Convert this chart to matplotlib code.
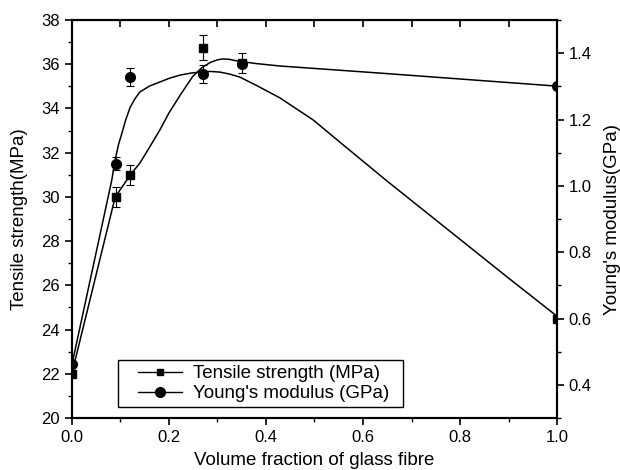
import numpy as np
import matplotlib
matplotlib.use("Agg")
import matplotlib.pyplot as plt
from matplotlib.lines import Line2D
from matplotlib.legend_handler import HandlerLine2D
from matplotlib.ticker import MultipleLocator

plt.rcParams['font.family'] = ['Liberation Sans', 'DejaVu Sans']

# measured points
vf = [0.0, 0.09, 0.12, 0.27, 0.35, 1.0]
tensile = [22.0, 30.0, 31.0, 36.75, 36.05, 24.5]        # MPa
tensile_err = [0.0, 0.45, 0.45, 0.55, 0.45, 0.0]
modulus = [0.462, 1.067, 1.327, 1.337, 1.367, 1.30]      # GPa
modulus_err = [0.0, 0.02, 0.027, 0.027, 0.0, 0.0]

# smooth fitted curves as drawn in the figure
fit_t_x = [0.0, 0.089, 0.113, 0.12, 0.14, 0.16, 0.181, 0.2, 0.223, 0.249,
           0.268, 0.285, 0.3, 0.311, 0.325, 0.34, 0.38, 0.429, 0.635, 1.0]
fit_t_y = [22.03, 29.99, 30.76, 30.99, 31.53, 32.25, 33.02, 33.8, 34.6, 35.45,
           35.85, 36.08, 36.2, 36.24, 36.22, 36.15, 36.03, 35.92, 35.6, 35.01]
fit_m_x = [0.0, 0.082, 0.089, 0.096, 0.103, 0.111, 0.12, 0.13, 0.14, 0.16,
           0.181, 0.2, 0.223, 0.245, 0.264, 0.285, 0.305, 0.325, 0.346, 0.38,
           0.429, 0.497, 0.567, 0.65, 0.769, 0.9, 1.0]
fit_m_y = [0.462, 1.017, 1.078, 1.125, 1.159, 1.2, 1.237, 1.263, 1.283, 1.301,
           1.313, 1.324, 1.334, 1.34, 1.343, 1.345, 1.343, 1.337, 1.328, 1.303,
           1.265, 1.199, 1.114, 1.014, 0.875, 0.722, 0.607]

fig = plt.figure(figsize=(6.2, 4.7), dpi=100)
ax = fig.add_axes([0.1161, 0.1106, 0.7823, 0.8468])
ax2 = ax.twinx()

ax.plot(fit_t_x, fit_t_y, color='k', lw=1.1)
ax.errorbar(vf, tensile, yerr=tensile_err, fmt='s', color='k', ms=6,
            ecolor='k', elinewidth=0.8, capsize=3, capthick=0.8)
ax2.plot(fit_m_x, fit_m_y, color='k', lw=1.1)
ax2.errorbar(vf, modulus, yerr=modulus_err, fmt='o', color='k', ms=7,
             ecolor='k', elinewidth=0.8, capsize=3, capthick=0.8)

ax.set_xlim(0, 1.0)
ax.set_ylim(20, 38)
ax2.set_ylim(0.3, 1.5)
ax.xaxis.set_major_locator(MultipleLocator(0.2))
ax.xaxis.set_minor_locator(MultipleLocator(0.1))
ax.yaxis.set_major_locator(MultipleLocator(2))
ax.yaxis.set_minor_locator(MultipleLocator(1))
ax2.yaxis.set_major_locator(MultipleLocator(0.2))
ax2.yaxis.set_minor_locator(MultipleLocator(0.1))

ax.tick_params(axis='both', which='major', direction='out', length=5, width=1.2, labelsize=12)
ax.tick_params(axis='both', which='minor', direction='out', length=3, width=1.0)
ax2.tick_params(axis='y', which='major', direction='out', length=5, width=1.2, labelsize=12)
ax2.tick_params(axis='y', which='minor', direction='out', length=3, width=1.0)

top = ax.secondary_xaxis('top')
top.xaxis.set_major_locator(MultipleLocator(0.1))
top.tick_params(direction='in', length=5, width=1.2, labelsize=0)
top.set_xticklabels([])

for a in (ax, ax2):
    for s in a.spines.values():
        s.set_linewidth(1.5)

ax.set_xlabel('Volume fraction of glass fibre', fontsize=13.5, labelpad=5)
ax.set_ylabel('Tensile strength(MPa)', fontsize=13.5, labelpad=10)
ax2.set_ylabel("Young's modulus(GPa)", fontsize=13.5, labelpad=9)

handles = [
    Line2D([], [], color='k', lw=1.0, marker='s', ms=5),
    Line2D([], [], color='k', lw=1.0, marker='o', ms=7),
]
leg = ax.legend(handles, ['Tensile strength (MPa)', "Young's modulus (GPa)"],
                loc='lower left', bbox_to_anchor=(0.095, 0.028, 0.588, 0.125),
                mode='expand', borderaxespad=0,
                handler_map={Line2D: HandlerLine2D(xpad=0.8)},
                fontsize=13.5, handlelength=3.15, handletextpad=0.6,
                fancybox=False, framealpha=1, edgecolor='k', labelspacing=0.15,
                borderpad=0.25)
leg.get_frame().set_linewidth(1.0)

fig.savefig('out.png', dpi=100)
